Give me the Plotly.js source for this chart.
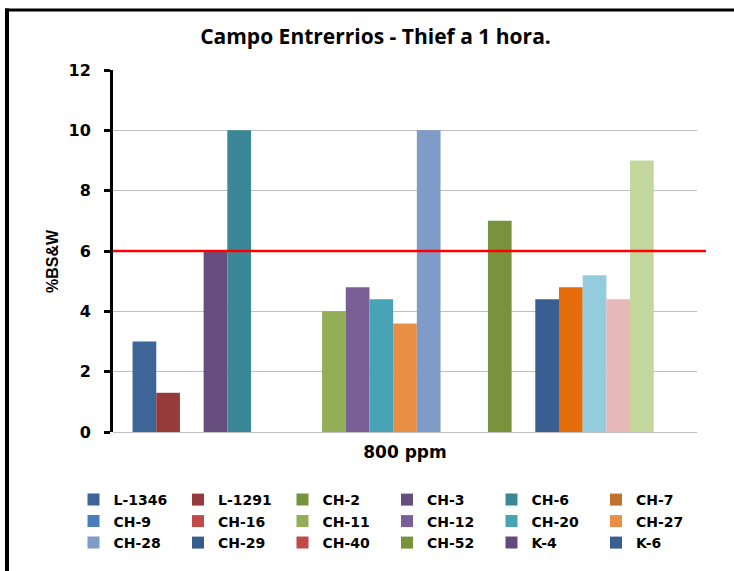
<!DOCTYPE html>
<html>
<head>
<meta charset="utf-8">
<script src="https://cdn.plot.ly/plotly-3.0.1.min.js"></script>
<style>
  html, body { margin: 0; padding: 0; background: #ffffff; }
  #chart { width: 734px; height: 571px; }
</style>
</head>
<body>
<div id="chart"></div>
<script>
// Single dosage category on the x axis
const categories = ['800 ppm'];

// One bar series per well (%BS&W after 1 hour)
const seriesNames = [
  'L-1346', 'L-1291', 'CH-2', 'CH-3', 'CH-6', 'CH-7',
  'CH-9', 'CH-16', 'CH-11', 'CH-12', 'CH-20', 'CH-27',
  'CH-28', 'CH-29', 'CH-40', 'CH-52', 'K-4', 'K-6',
  'Serie 19', 'Serie 20', 'Serie 21', 'Serie 22', 'Serie 23'
];
const seriesValues = [
  3, 1.3, 0, 6, 10, 0,
  0, 0, 4, 4.8, 4.4, 3.6,
  10, 0, 0, 7, 0, 4.4,
  4.8, 5.2, 4.4, 9, null
];
const seriesColors = [
  '#3E6598', '#953B3A', '#77933C', '#654E7E', '#3A8798', '#C0712F',
  '#4A7EBB', '#BE4B48', '#93AE56', '#7A5F97', '#48A3B7', '#E98F45',
  '#7F9CC8', '#385D8A', '#BE4B48', '#78933C', '#604A7B', '#385F8F',
  '#E46C0A', '#93CDDD', '#E6B9B8', '#C3D69B', '#BFBFBF'
];

// Maximum allowed %BS&W reference level
const limitValue = 6;
const yTitle = '%BS&W';

const legendCount = 18;     // entries listed in the legend
const legendColumns = 6;

const traces = seriesNames.map((name, i) => {
  const inLegend = i < legendCount;
  const col = i % legendColumns;
  return {
    type: 'bar',
    name: name,
    x: categories,
    y: [seriesValues[i]],
    marker: { color: seriesColors[i] },
    showlegend: inLegend,
    legend: col === 0 ? 'legend' : 'legend' + (col + 1),
    legendgroup: 'g' + i,
    hovertemplate: name + ': %{y}<extra></extra>'
  };
});

// Plot area geometry in pixels (used to place legends, labels and frame lines)
const W = 734, H = 571;
const M = { l: 113, r: 37, t: 70, b: 139 };
const pw = W - M.l - M.r;
const ph = H - M.t - M.b;
const px2x = px => (px - M.l) / pw;
const px2y = py => (H - M.b - py) / ph;

const legendFont = { family: 'DejaVu Sans', size: 14, color: '#000000', weight: 'bold' };
const legendXs = [73.5, 178, 282.5, 387, 491.5, 596];

const layout = {
  width: W,
  height: H,
  margin: M,
  paper_bgcolor: '#ffffff',
  plot_bgcolor: '#ffffff',
  barmode: 'group',
  bargap: 0.067,
  bargroupgap: 0,
  title: {
    text: 'Campo Entrerrios - Thief a 1 hora.',
    font: { family: 'Open Sans', size: 21, color: '#000000', weight: 'bold' },
    x: 375.5 / W,
    xref: 'container',
    xanchor: 'center',
    y: 1 - 37 / H,
    yref: 'container',
    yanchor: 'middle'
  },
  xaxis: {
    type: 'category',
    showgrid: false,
    showline: false,
    ticks: '',
    tickfont: { family: 'DejaVu Sans', size: 17, color: '#000000', weight: 'bold' },
    ticklabelstandoff: 8
  },
  yaxis: {
    range: [0, 12],
    dtick: 2,
    tick0: 0,
    showgrid: true,
    gridcolor: '#C0C0C0',
    gridwidth: 1,
    zeroline: true,
    zerolinecolor: '#C0C0C0',
    zerolinewidth: 1,
    showline: true,
    linecolor: '#000000',
    linewidth: 3,
    ticks: 'outside',
    ticklen: 6,
    tickwidth: 3,
    tickcolor: '#000000',
    ticklabelstandoff: 10,
    tickfont: { family: 'DejaVu Sans', size: 16, color: '#000000', weight: 'bold' }
  },
  annotations: [
    // y axis title, set a little below the middle of the axis
    {
      text: yTitle,
      xref: 'paper', yref: 'paper',
      x: px2x(52), y: px2y(261),
      xanchor: 'center', yanchor: 'middle',
      textangle: -90,
      showarrow: false,
      font: { family: 'Liberation Sans', size: 16, color: '#000000', weight: 'bold' }
    }
  ],
  shapes: [
    // limit line
    {
      type: 'line', xref: 'paper', yref: 'y',
      x0: 0, x1: px2x(706), y0: limitValue, y1: limitValue,
      line: { color: '#FF0000', width: 2.5 }
    },
    // chart frame: left edge
    {
      type: 'line', xref: 'paper', yref: 'paper',
      x0: px2x(7), x1: px2x(7), y0: px2y(8.5), y1: px2y(H + 5),
      line: { color: '#000000', width: 4 }
    },
    // chart frame: top edge
    {
      type: 'line', xref: 'paper', yref: 'paper',
      x0: px2x(5), x1: px2x(W + 5), y0: px2y(10), y1: px2y(10),
      line: { color: '#000000', width: 3 }
    }
  ]
};

// Six legend columns, three entries each
legendXs.forEach((lx, c) => {
  const key = c === 0 ? 'legend' : 'legend' + (c + 1);
  layout[key] = {
    x: px2x(lx),
    xanchor: 'left',
    y: px2y(484),
    yanchor: 'top',
    orientation: 'v',
    bgcolor: 'rgba(0,0,0,0)',
    borderwidth: 0,
    font: legendFont,
    tracegroupgap: 0.3,
    itemclick: false,
    itemdoubleclick: false
  };
});

Plotly.newPlot('chart', traces, layout, { displayModeBar: false, responsive: false });
</script>
</body>
</html>
